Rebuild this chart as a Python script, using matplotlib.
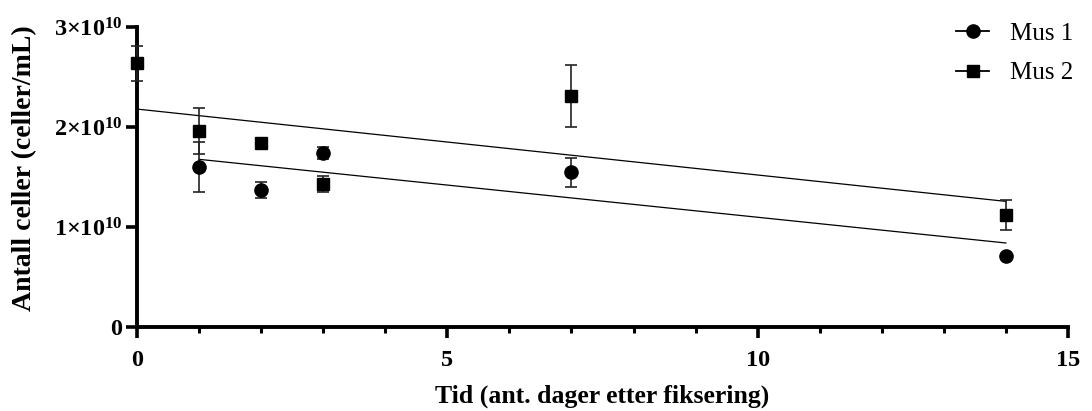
import numpy as np
import matplotlib
matplotlib.use("Agg")
import matplotlib.pyplot as plt
from matplotlib.lines import Line2D
from matplotlib.ticker import MultipleLocator, FixedLocator

plt.rcParams['font.family'] = ['Liberation Serif', 'DejaVu Serif']
plt.rcParams['mathtext.fontset'] = 'custom'
plt.rcParams['mathtext.rm'] = 'Liberation Serif'
plt.rcParams['mathtext.bf'] = 'Liberation Serif:bold'

# Data
x_mus1 = [1, 2, 3, 7, 14]
y_mus1 = [1.60e10, 1.37e10, 1.74e10, 1.55e10, 0.71e10]
err_mus1 = [0.25e10, 0.08e10, 0.06e10, 0.145e10, 0.0]

x_mus2 = [0, 1, 2, 3, 7, 14]
y_mus2 = [2.64e10, 1.96e10, 1.84e10, 1.43e10, 2.31e10, 1.12e10]
err_mus2 = [0.175e10, 0.23e10, 0.03e10, 0.08e10, 0.31e10, 0.15e10]

series_labels = ["Mus 1", "Mus 2"]
y_ticks = [0, 1e10, 2e10, 3e10]
y_tick_labels = [r"$\mathbf{0}$", r"$\mathbf{1{\times}10^{10}}$",
                 r"$\mathbf{2{\times}10^{10}}$", r"$\mathbf{3{\times}10^{10}}$"]
x_ticks = [0, 5, 10, 15]
xlabel = "Tid (ant. dager etter fiksering)"
ylabel = "Antall celler (celler/mL)"

fig = plt.figure(figsize=(10.92, 4.11), dpi=100)
ax = fig.add_axes([0.1255, 0.2044, 0.978 - 0.1255, 0.934 - 0.2044])

# error bars + markers
ax.errorbar(x_mus1, y_mus1, yerr=err_mus1, fmt='o', color='black', ms=9.5,
            ecolor='#222222', elinewidth=1.2, capsize=4.5, capthick=1.2, zorder=3,
            clip_on=False)
ax.errorbar(x_mus2, y_mus2, yerr=err_mus2, fmt='s', color='black', ms=9,
            ecolor='#222222', elinewidth=1.2, capsize=4.5, capthick=1.2, zorder=3,
            clip_on=False)

# regression lines
for xs, ys in [(x_mus1, y_mus1), (x_mus2, y_mus2)]:
    xs = np.array(xs, float); ys = np.array(ys, float)
    m, b = np.polyfit(xs, ys, 1)
    xx = np.array([xs.min(), xs.max()])
    ax.plot(xx, m * xx + b, color='black', lw=0.9, zorder=2)

ax.set_xlim(0, 15)
ax.set_ylim(0, 3e10)
ax.spines['top'].set_visible(False)
ax.spines['right'].set_visible(False)
for s in ['left', 'bottom']:
    ax.spines[s].set_linewidth(2.8)

ax.xaxis.set_major_locator(FixedLocator(x_ticks))
ax.xaxis.set_minor_locator(MultipleLocator(1))
ax.yaxis.set_major_locator(FixedLocator(y_ticks))
ax.set_yticklabels(y_tick_labels)
ax.tick_params(axis='both', which='major', length=8, width=2.6, direction='out',
               labelsize=17.5)
ax.tick_params(axis='x', which='minor', length=4.5, width=2.2, direction='out')
ax.tick_params(axis='x', which='major', pad=8.5)
ax.tick_params(axis='y', which='major', pad=2)
for lbl in ax.get_xticklabels():
    lbl.set_fontweight('bold')

ax.set_xlabel(xlabel, fontsize=18.5, fontweight='bold', labelpad=10)
ax.set_ylabel(ylabel, fontsize=20, fontweight='bold')
ax.yaxis.set_label_coords(-0.107, 0.53)

handles = [Line2D([0], [0], color='black', lw=1.3, marker='o', ms=9.5),
           Line2D([0], [0], color='black', lw=1.3, marker='s', ms=8.5)]
ax.legend(handles, series_labels, loc='upper right', bbox_to_anchor=(1.03, 1.09),
          frameon=False, fontsize=18, handlelength=1.3, handletextpad=0.85,
          labelspacing=0.67)

fig.savefig("out.png", dpi=100)
